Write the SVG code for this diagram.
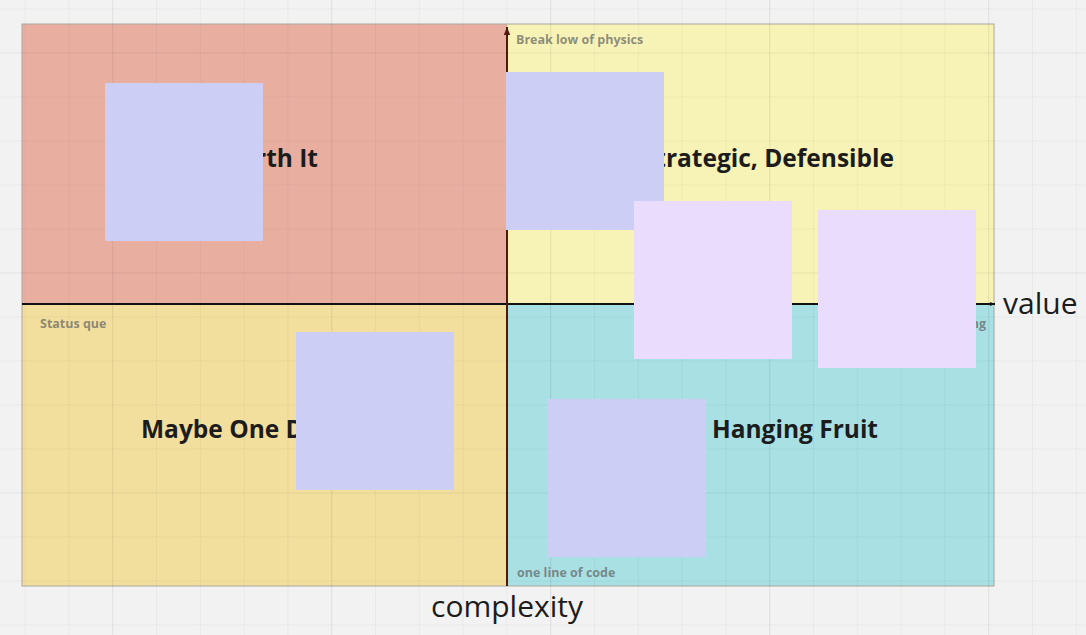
<svg xmlns="http://www.w3.org/2000/svg" width="1086" height="635" viewBox="0 0 1086 635">
  <defs>
    <style>
      .minor { stroke: #000; stroke-opacity: 0.035; stroke-width: 1; }
      .major { stroke: #000; stroke-opacity: 0.065; stroke-width: 1.2; }
      .title { font-family: "Open Sans", "Liberation Sans", sans-serif; font-weight: 700; font-size: 24.5px; fill: #1c1c1c; }
      .note { font-family: "Open Sans", "Liberation Sans", sans-serif; font-weight: 700; font-size: 12.5px; fill: #5f5f5f; fill-opacity: 0.7; }
      .axislabel { font-family: "Open Sans", "Liberation Sans", sans-serif; font-weight: 400; font-size: 30px; fill: #1c1c1c; }
      .stickyBlue { fill: #cccef5; }
      .stickyPurple { fill: #e9dcfc; }
    </style>
    <marker id="arrowBlack" viewBox="0 0 10 10" refX="10" refY="5" markerWidth="5" markerHeight="5" orient="auto" markerUnits="userSpaceOnUse">
      <path d="M0,1 L10,5 L0,9 z" fill="#111"/>
    </marker>
    <marker id="arrowBrown" viewBox="0 0 10 10" refX="10" refY="5" markerWidth="8" markerHeight="8" orient="auto" markerUnits="userSpaceOnUse">
      <path d="M0,1 L10,5 L0,9 z" fill="#4e1a10"/>
    </marker>
  </defs>

  <rect x="0" y="0" width="1086" height="635" fill="#f2f2f2"/>

  <g id="quadrants">
    <rect x="22" y="24" width="485" height="280" fill="#e8afa1"/>
    <rect x="507" y="24" width="487" height="280" fill="#f7f2b5"/>
    <rect x="22" y="304" width="485" height="282" fill="#f2df9e"/>
    <rect x="507" y="304" width="487" height="282" fill="#a8e0e4"/>
    <rect x="22" y="24" width="972" height="562" fill="none" stroke="#a9a69a" stroke-width="1"/>
  </g>

  <g id="grid">
    <line class="minor" x1="25.1" y1="0" x2="25.1" y2="635"/>
    <line class="minor" x1="68.9" y1="0" x2="68.9" y2="635"/>
    <line class="major" x1="112.7" y1="0" x2="112.7" y2="635"/>
    <line class="minor" x1="156.5" y1="0" x2="156.5" y2="635"/>
    <line class="minor" x1="200.3" y1="0" x2="200.3" y2="635"/>
    <line class="minor" x1="244.1" y1="0" x2="244.1" y2="635"/>
    <line class="minor" x1="287.9" y1="0" x2="287.9" y2="635"/>
    <line class="major" x1="331.7" y1="0" x2="331.7" y2="635"/>
    <line class="minor" x1="375.5" y1="0" x2="375.5" y2="635"/>
    <line class="minor" x1="419.3" y1="0" x2="419.3" y2="635"/>
    <line class="minor" x1="463.1" y1="0" x2="463.1" y2="635"/>
    <line class="minor" x1="506.9" y1="0" x2="506.9" y2="635"/>
    <line class="major" x1="550.7" y1="0" x2="550.7" y2="635"/>
    <line class="minor" x1="594.5" y1="0" x2="594.5" y2="635"/>
    <line class="minor" x1="638.3" y1="0" x2="638.3" y2="635"/>
    <line class="minor" x1="682.1" y1="0" x2="682.1" y2="635"/>
    <line class="minor" x1="725.9" y1="0" x2="725.9" y2="635"/>
    <line class="major" x1="769.7" y1="0" x2="769.7" y2="635"/>
    <line class="minor" x1="813.5" y1="0" x2="813.5" y2="635"/>
    <line class="minor" x1="857.3" y1="0" x2="857.3" y2="635"/>
    <line class="minor" x1="901.1" y1="0" x2="901.1" y2="635"/>
    <line class="minor" x1="944.9" y1="0" x2="944.9" y2="635"/>
    <line class="major" x1="988.7" y1="0" x2="988.7" y2="635"/>
    <line class="minor" x1="1032.5" y1="0" x2="1032.5" y2="635"/>
    <line class="minor" x1="1076.3" y1="0" x2="1076.3" y2="635"/>

    <line class="minor" x1="0" y1="9" x2="1086" y2="9"/>
    <line class="major" x1="0" y1="53" x2="1086" y2="53"/>
    <line class="minor" x1="0" y1="97" x2="1086" y2="97"/>
    <line class="minor" x1="0" y1="141" x2="1086" y2="141"/>
    <line class="minor" x1="0" y1="185" x2="1086" y2="185"/>
    <line class="minor" x1="0" y1="229" x2="1086" y2="229"/>
    <line class="major" x1="0" y1="273" x2="1086" y2="273"/>
    <line class="minor" x1="0" y1="317" x2="1086" y2="317"/>
    <line class="minor" x1="0" y1="361" x2="1086" y2="361"/>
    <line class="minor" x1="0" y1="405" x2="1086" y2="405"/>
    <line class="minor" x1="0" y1="449" x2="1086" y2="449"/>
    <line class="major" x1="0" y1="493" x2="1086" y2="493"/>
    <line class="minor" x1="0" y1="537" x2="1086" y2="537"/>
    <line class="minor" x1="0" y1="581" x2="1086" y2="581"/>
    <line class="minor" x1="0" y1="625" x2="1086" y2="625"/>
  </g>

  <g id="connectors">
    <line x1="22" y1="304" x2="995" y2="304" stroke="#111" stroke-width="2" marker-end="url(#arrowBlack)"/>
    <line x1="507" y1="586" x2="507" y2="27" stroke="#4e1a10" stroke-width="2" marker-end="url(#arrowBrown)"/>
  </g>

  <g id="labels">
    <text class="note" x="516" y="44">Break low of physics</text>
    <text class="note" x="40" y="328">Status que</text>
    <text class="note" x="517" y="577">one line of code</text>
    <text class="note" x="986" y="328" text-anchor="end">ng</text>
    <text class="axislabel" x="1003" y="314">value</text>
    <text class="axislabel" x="507" y="617" text-anchor="middle">complexity</text>
  </g>

  <g id="quadrant-not-worth-it">
    <text class="title" x="318" y="167" text-anchor="end">Not Worth It</text>
  </g>
  <g id="quadrant-strategic">
    <text class="title" x="894" y="167" text-anchor="end">Strategic, Defensible</text>
  </g>
  <g id="quadrant-maybe">
    <text class="title" x="141" y="438">Maybe One Day</text>
  </g>
  <g id="quadrant-low-hanging">
    <text class="title" x="878" y="438" text-anchor="end">Low Hanging Fruit</text>
  </g>

  <g id="sticky-1"><rect class="stickyBlue" x="105" y="83" width="158" height="158"/></g>
  <g id="sticky-2"><rect class="stickyBlue" x="506" y="72" width="158" height="158"/></g>
  <g id="sticky-3"><rect class="stickyPurple" x="634" y="201" width="158" height="158"/></g>
  <g id="sticky-4"><rect class="stickyPurple" x="818" y="210" width="158" height="158"/></g>
  <g id="sticky-5"><rect class="stickyBlue" x="296" y="332" width="158" height="158"/></g>
  <g id="sticky-6"><rect class="stickyBlue" x="548" y="399" width="158" height="158"/></g>
</svg>
